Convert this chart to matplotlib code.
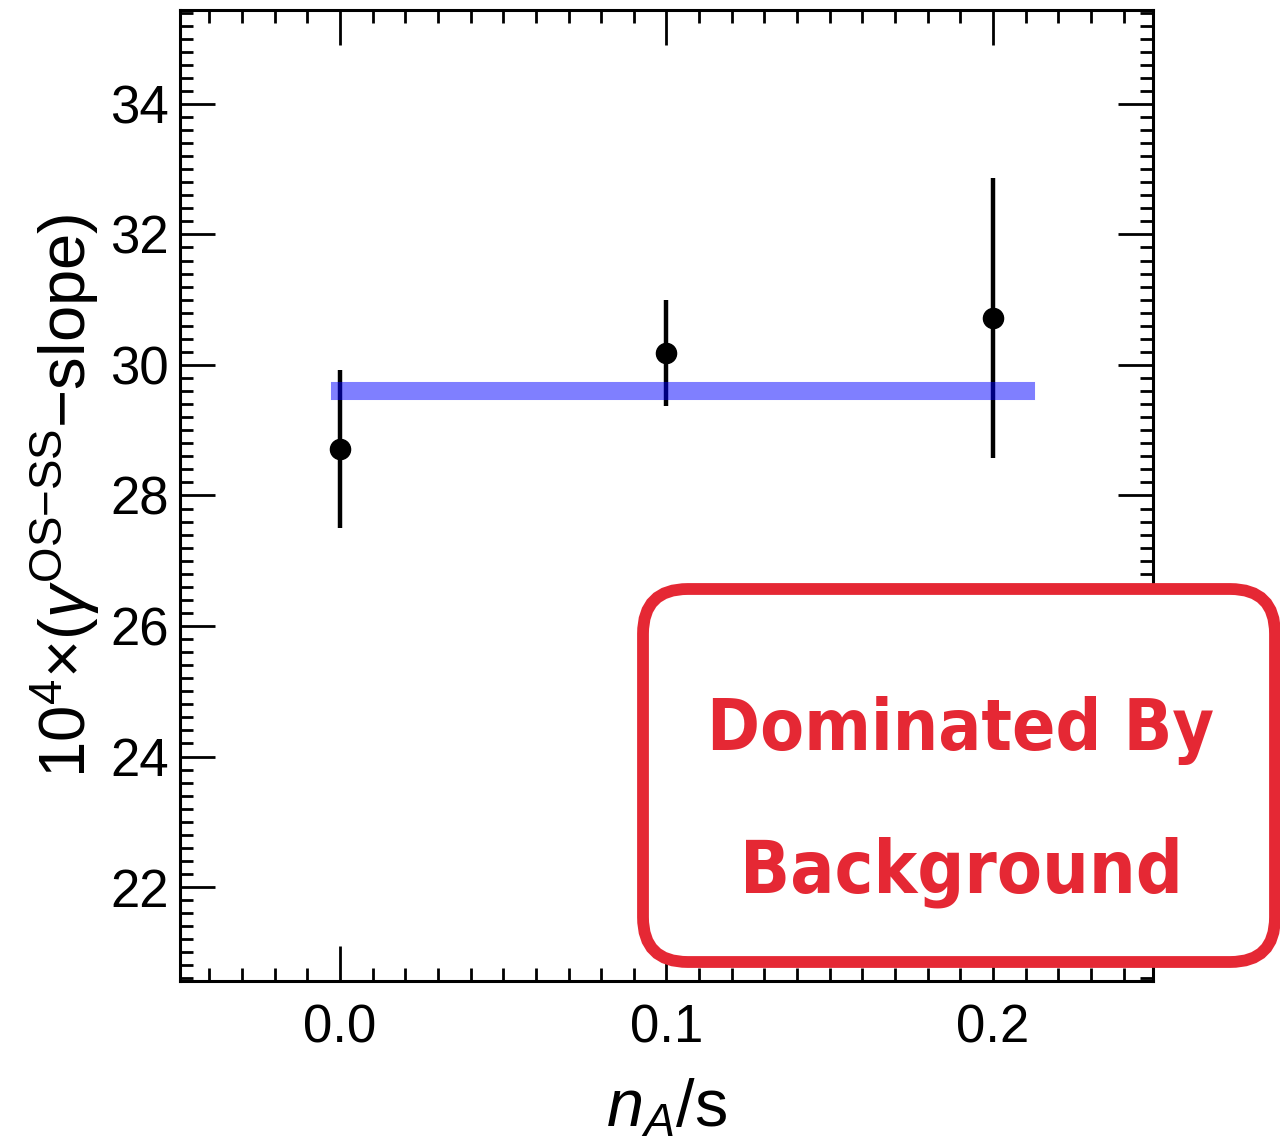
import matplotlib.pyplot as plt
from matplotlib import font_manager as fm
from matplotlib.patches import FancyBboxPatch
from matplotlib.ticker import MultipleLocator

plt.rcParams['font.family'] = ['Liberation Sans', 'DejaVu Sans']
plt.rcParams['mathtext.fontset'] = 'custom'
plt.rcParams['mathtext.rm'] = 'Liberation Sans'
plt.rcParams['mathtext.it'] = 'Liberation Sans:italic'
plt.rcParams['mathtext.bf'] = 'Liberation Sans:bold'

# measured points with symmetric errors
n_over_s = [0.0, 0.1, 0.2]
delta_gamma = [28.71, 30.18, 30.72]
delta_gamma_err = [1.21, 0.81, 2.15]

# constant fit over the n_A/s range
fit_x = [0.0, 0.21]
fit_y = [29.6, 29.6]

x_ticks = [0.0, 0.1, 0.2]
x_ticklabels = ['0.0', '0.1', '0.2']
y_ticks = [22, 24, 26, 28, 30, 32, 34]

note_lines = ['Dominated By', 'Background']


def condensed_bold_font():
    """Pick a narrow bold face if one is installed, else plain bold sans."""
    for f in fm.fontManager.ttflist:
        name = f.name.lower()
        narrow = ('narrow' in name or 'condensed' in name or
                  str(f.stretch) in ('condensed', 'semi-condensed', 'extra-condensed'))
        bold = f.weight in ('bold', 700, 'heavy', 800) or (isinstance(f.weight, int) and f.weight >= 700)
        if narrow and bold and f.style == 'normal':
            return fm.FontProperties(fname=f.fname)
    return fm.FontProperties(family='Liberation Sans', weight='bold')


fig = plt.figure(figsize=(12.8, 11.43), dpi=100)
ax = fig.add_axes([0.1406, 0.1417, 0.9008 - 0.1406, 0.9913 - 0.1417])

ax.plot(fit_x, fit_y, color='blue', alpha=0.5, lw=13, solid_capstyle='projecting', zorder=3)
ax.errorbar(n_over_s, delta_gamma, yerr=delta_gamma_err, fmt='o', color='black',
            ms=14.5, elinewidth=3.2, capsize=0, zorder=2)

ax.set_xlim(-0.049, 0.249)
ax.set_ylim(20.56, 35.44)
ax.set_xticks(x_ticks)
ax.set_xticklabels(x_ticklabels)
ax.set_yticks(y_ticks)
ax.xaxis.set_minor_locator(MultipleLocator(0.01))
ax.yaxis.set_minor_locator(MultipleLocator(0.2))

for s in ax.spines.values():
    s.set_linewidth(2.2)
ax.tick_params(which='both', direction='in', top=True, right=True, width=2.0, labelsize=38)
ax.tick_params(which='major', length=25)
ax.tick_params(which='minor', length=9.5)
ax.tick_params(axis='x', which='major', pad=16)
ax.tick_params(axis='y', which='major', pad=8)

ax.set_xlabel(r'$n_A$/s', fontsize=48, labelpad=18)
ax.set_ylabel('$10^4$×($\\gamma^{\\rm OS{-}SS}$\u2212slope)', fontsize=47, labelpad=6)

# rounded note box on top of the axes
red = '#e52834'
box = FancyBboxPatch((643 / 1280, 1 - 962 / 1143), (1275 - 643) / 1280, (962 - 589) / 1143,
                     boxstyle='round,pad=0,rounding_size=0.035', mutation_aspect=1280 / 1143,
                     transform=fig.transFigure, facecolor='white', edgecolor=red, lw=8.5,
                     clip_on=False, zorder=10)
fig.add_artist(box)

note_font = condensed_bold_font()
renderer = fig.canvas.get_renderer()
for line, yb, width_px in zip(note_lines, [750, 893], [507, 443]):
    t = fig.text(961 / 1280, 1 - yb / 1143, line, ha='center', va='baseline', color=red,
                 fontproperties=note_font, fontsize=80, zorder=11)
    w = t.get_window_extent(renderer).width
    t.set_fontsize(min(82, 80 * width_px / w))

fig.savefig('out.png', dpi=100)
